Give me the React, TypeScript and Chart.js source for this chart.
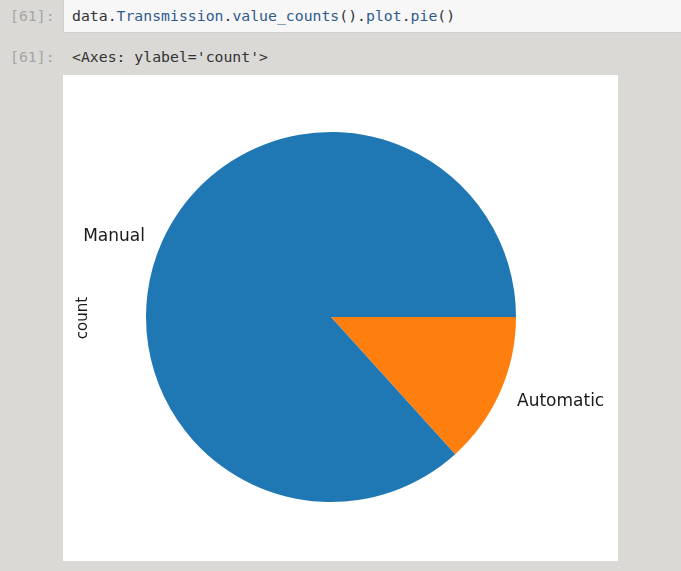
import React, { useEffect, useRef } from "react";
import { Chart, registerables } from "chart.js";

Chart.register(...registerables);

const categories = ["Manual", "Automatic"];
const counts = [261, 40];
const sliceColors = ["#1f77b4", "#ff7f0e"];
const yLabel = "count";

const mono = "'DejaVu Sans Mono', 'Liberation Mono', monospace";
const sans = "'DejaVu Sans', sans-serif";

const pieLabelsPlugin = {
  id: "pieLabels",
  afterDatasetsDraw(chart: any) {
    const ctx = chart.ctx;
    const meta = chart.getDatasetMeta(0);
    const labels = chart.data.labels as string[];
    ctx.save();
    ctx.font = `17px ${sans}`;
    ctx.fillStyle = "#1a1a1a";
    ctx.textBaseline = "middle";
    meta.data.forEach((arc: any, i: number) => {
      const p = arc.getProps(["x", "y", "startAngle", "endAngle", "outerRadius"], true);
      const mid = (p.startAngle + p.endAngle) / 2;
      const r = p.outerRadius * 1.1;
      const tx = p.x + Math.cos(mid) * r;
      const ty = p.y + Math.sin(mid) * r + 2;
      ctx.textAlign = Math.cos(mid) > 0 ? "left" : "right";
      ctx.fillText(labels[i], tx, ty);
    });
    // y-axis label
    const ca = chart.chartArea;
    ctx.font = `15px ${sans}`;
    ctx.translate(20, (ca.top + ca.bottom) / 2 + 1);
    ctx.rotate(-Math.PI / 2);
    ctx.textAlign = "center";
    ctx.fillText(yLabel, 0, 0);
    ctx.restore();
  },
};

function PieChart() {
  const ref = useRef<HTMLCanvasElement>(null);
  useEffect(() => {
    if (!ref.current) return;
    const labels = [...categories].reverse();
    const values = [...counts].reverse();
    const colors = [...sliceColors].reverse();
    const chart = new Chart(ref.current, {
      type: "pie",
      data: {
        labels,
        datasets: [
          {
            data: values,
            backgroundColor: colors,
            borderWidth: 0,
          },
        ],
      },
      options: {
        animation: false,
        responsive: false,
        rotation: 90,
        layout: { padding: { left: 40, right: 59, top: 57, bottom: 59 } },
        plugins: {
          legend: { display: false },
          tooltip: { enabled: false },
        },
      },
      plugins: [pieLabelsPlugin],
    });
    return () => chart.destroy();
  }, []);
  return <canvas ref={ref} width={555} height={486} style={{ display: "block", background: "#ffffff" }} />;
}

export default function App() {
  return (
    <div
      style={{
        position: "absolute",
        left: 0,
        top: 0,
        width: 681,
        height: 571,
        background: "#dad9d5",
        overflow: "hidden",
      }}
    >
      <div
        style={{
          position: "absolute",
          left: 10,
          top: 6,
          font: `14.8px ${mono}`,
          color: "#a5a5a5",
          lineHeight: "20px",
        }}
      >
        [61]:
      </div>
      <div
        style={{
          position: "absolute",
          left: 63,
          top: -2,
          width: 640,
          height: 33,
          background: "#f7f7f7",
          border: "1px solid #cfcfcf",
        }}
      />
      <div
        style={{
          position: "absolute",
          left: 72,
          top: 6,
          font: `14.8px ${mono}`,
          lineHeight: "20px",
          color: "#333333",
          whiteSpace: "pre",
        }}
      >
        data.<span style={{ color: "#305a8c" }}>Transmission</span>.
        <span style={{ color: "#305a8c" }}>value_counts</span>().
        <span style={{ color: "#305a8c" }}>plot</span>.
        <span style={{ color: "#305a8c" }}>pie</span>()
      </div>
      <div
        style={{
          position: "absolute",
          left: 10,
          top: 47,
          font: `14.8px ${mono}`,
          color: "#a5a5a5",
          lineHeight: "20px",
        }}
      >
        [61]:
      </div>
      <div
        style={{
          position: "absolute",
          left: 72,
          top: 47,
          font: `14.8px ${mono}`,
          color: "#333333",
          lineHeight: "20px",
          whiteSpace: "pre",
        }}
      >
        {"<Axes: ylabel='count'>"}
      </div>
      <div style={{ position: "absolute", left: 63, top: 75 }}>
        <PieChart />
      </div>
    </div>
  );
}
